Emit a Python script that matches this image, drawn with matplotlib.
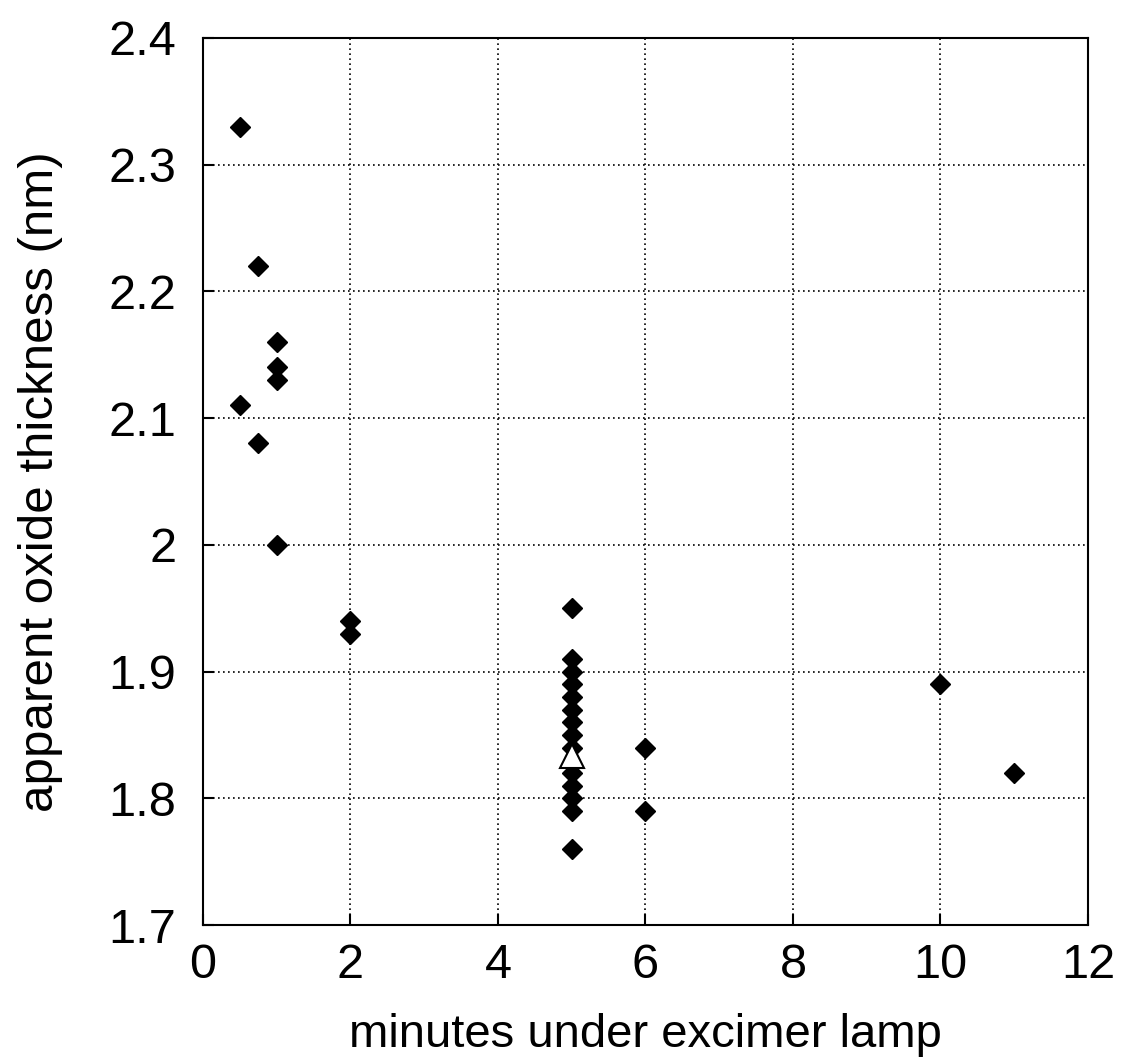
import matplotlib
matplotlib.use('Agg')
import matplotlib.pyplot as plt

font = {'family': 'sans-serif',
        'sans-serif': ['Liberation Sans', 'DejaVu Sans'],
        'size': 35}
matplotlib.rc('font', **font)

# measured points (minutes, nm)
minutes = [0.5, 0.5, 0.75, 0.75, 1, 1, 1, 1, 2, 2,
           5, 5, 5, 5, 5, 5, 5, 5, 5, 5, 5, 5, 5, 5,
           6, 6, 10, 11]
thickness = [2.33, 2.11, 2.22, 2.08, 2.16, 2.14, 2.13, 2.00, 1.94, 1.93,
             1.95, 1.91, 1.90, 1.89, 1.88, 1.87, 1.86, 1.85, 1.84,
             1.82, 1.81, 1.80, 1.79, 1.76,
             1.84, 1.79, 1.89, 1.82]

# mean marker
mean_x = [5]
mean_y = [1.833]

xticks = [0, 2, 4, 6, 8, 10, 12]
yticks = [1.7, 1.8, 1.9, 2.0, 2.1, 2.2, 2.3, 2.4]
ylabels = ['1.7', '1.8', '1.9', '2', '2.1', '2.2', '2.3', '2.4']

fig = plt.figure(figsize=(11.27, 10.63), dpi=100)
ax = fig.add_axes([0.180, 0.1298, 0.7854, 0.8345])

ax.plot(minutes, thickness, linestyle='none', marker='D', color='black',
        markersize=10, zorder=3)
ax.plot(mean_x, mean_y, linestyle='none', marker='^', markerfacecolor='white',
        markeredgecolor='black', markeredgewidth=1.5, markersize=17, zorder=4)

ax.set_xlim(0, 12)
ax.set_ylim(1.7, 2.4)
ax.set_xticks(xticks)
ax.set_yticks(yticks)
ax.set_yticklabels(ylabels)
ax.grid(True, color='black', linestyle=(0, (1, 2)), linewidth=1.2)
ax.tick_params(direction='in', length=8, width=1.5, top=False, right=False)
ax.tick_params(axis='x', pad=13)
ax.tick_params(axis='y', pad=19)
for s in ax.spines.values():
    s.set_linewidth(1.5)

ax.set_xlabel('minutes under excimer lamp', fontsize=34, labelpad=18)
ax.set_ylabel('apparent oxide thickness (nm)', fontsize=35.5, labelpad=33)

fig.savefig('out.png', dpi=100)
